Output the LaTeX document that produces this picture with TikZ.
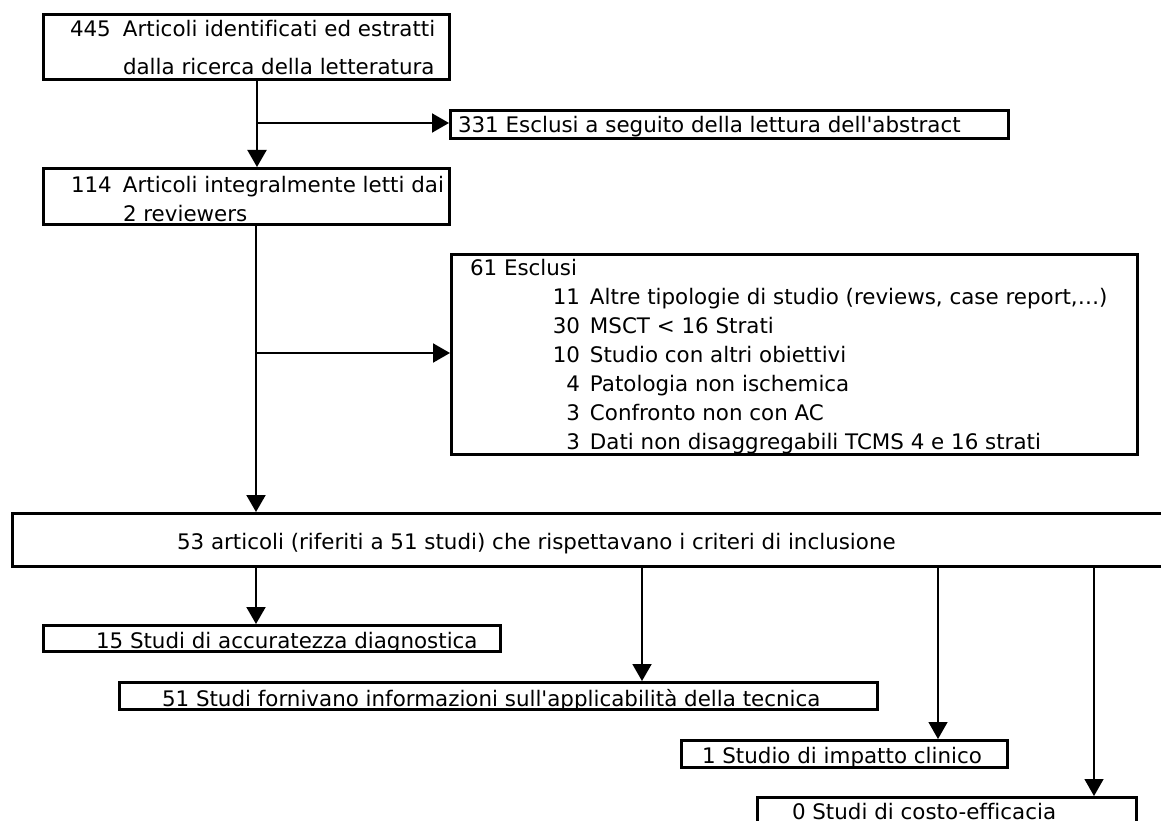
\documentclass[tikz,border=0pt]{standalone}
\usepackage{fontspec}
\setmainfont{DejaVu Sans}[Ligatures={TeXOff,NoCommon}]
\usetikzlibrary{arrows.meta}
\newcommand{\exline}[2]{\makebox[40pt][r]{#1}\hspace{10pt}#2}
\begin{document}
\begin{tikzpicture}[x=1pt,y=-1pt,
  box/.style={draw=black, line width=3pt, inner sep=0pt},
  txt/.style={anchor=base west, inner sep=0pt, outer sep=0pt, font=\fontsize{21.4}{25}\selectfont},
  conn/.style={draw=black, line width=2pt, -{Triangle[length=17pt,width=19pt]}},
  thinconn/.style={conn, line width=1.4pt}]
\useasboundingbox (0,0) rectangle (1161,821);
\fill[white] (0,0) rectangle (1161,821);
\clip (0,0) rectangle (1161,821);

% boxes
\node[box, minimum width=406pt, minimum height=65pt]  (b445) at (246.5,47) {};
\node[box, minimum width=558pt, minimum height=28pt]  (b331) at (729.5,124.5) {};
\node[box, minimum width=406pt, minimum height=56pt]  (b114) at (246.5,196.5) {};
\node[box, minimum width=686pt, minimum height=200pt] (b61)  at (794.5,354.5) {};
\node[box, minimum width=1161pt, minimum height=53pt] (b53)  at (593,540) {};
\node[box, minimum width=457pt, minimum height=26pt]  (b15)  at (272,638.5) {};
\node[box, minimum width=758pt, minimum height=27pt]  (b51)  at (498.5,696) {};
\node[box, minimum width=326pt, minimum height=27pt]  (b1)   at (844.5,754) {};
\node[box, minimum width=379pt, minimum height=41pt]  (b0)   at (947,818) {};

% texts
\node[txt] (t445a) at (70,37)  {\makebox[53pt][l]{445}Articoli identificati ed estratti};
\node[txt] (t445b) at (123,75) {dalla ricerca della letteratura};
\node[txt] (t331)  at (458,133) {331 Esclusi a seguito della lettura dell'abstract};
\node[txt] (t114a) at (71,193) {\makebox[52pt][l]{114}Articoli integralmente letti dai};
\node[txt] (t114b) at (123,221) {2 reviewers};
\node[txt] (t61)   at (470,275) {61 Esclusi};
\node[txt] (t61a)  at (540,304) {\exline{11}{Altre tipologie di studio (reviews, case report,…)}};
\node[txt] (t61b)  at (540,333) {\exline{30}{MSCT < 16 Strati}};
\node[txt] (t61c)  at (540,362) {\exline{10}{Studio con altri obiettivi}};
\node[txt] (t61d)  at (540,391) {\exline{4}{Patologia non ischemica}};
\node[txt] (t61e)  at (540,420) {\exline{3}{Confronto non con AC}};
\node[txt] (t61f)  at (540,449) {\exline{3}{Dati non disaggregabili TCMS 4 e 16 strati}};
\node[txt] (t53)   at (177,549) {53 articoli (riferiti a 51 studi) che rispettavano i criteri di inclusione};
\node[txt] (t15)   at (96,648)  {15 Studi di accuratezza diagnostica};
\node[txt] (t51)   at (162,706) {51 Studi fornivano informazioni sull'applicabilità della tecnica};
\node[txt] (t1)    at (702,763) {1 Studio di impatto clinico};
\node[txt] (t0)    at (792,819) {0 Studi di costo-efficacia};

% connector columns
\coordinate (x1) at (257,0);
\coordinate (x2) at (256,0);
\coordinate (x3) at (642,0);
\coordinate (x4) at (938,0);
\coordinate (x5) at (1094,0);
\coordinate (j1) at (257,123);
\coordinate (j2) at (256,353);

\draw[conn] (b445.south -| x1) -- (b114.north -| x1);
\draw[conn] (j1) -- (b331.west |- j1);
\draw[conn] (b114.south -| x2) -- (b53.north -| x2);
\draw[conn] (j2) -- (b61.west |- j2);
\draw[conn] (b53.south -| x2) -- (b15.north -| x2);
\draw[conn] (b53.south -| x3) -- (b51.north -| x3);
\draw[thinconn] (b53.south -| x4) -- (b1.north -| x4);
\draw[thinconn] (b53.south -| x5) -- (b0.north -| x5);
\end{tikzpicture}
\end{document}
